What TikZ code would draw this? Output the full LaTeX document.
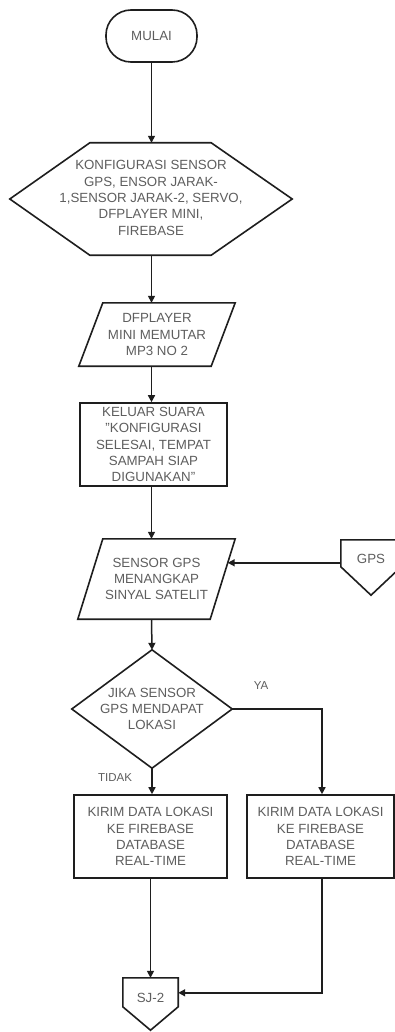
\documentclass[tikz,border=0pt]{standalone}
\usepackage{fontspec}
\setmainfont{Liberation Sans}
\usetikzlibrary{arrows.meta,calc}
\definecolor{ink}{HTML}{1E1E1E}
\definecolor{txt}{HTML}{5E5E5E}
\tikzset{
  box/.style={rectangle,inner sep=0pt,align=center,text=txt,
    font=\fontsize{13.3}{16.3}\selectfont},
  outline/.style={draw=ink,line width=1.6pt,line join=miter},
  flow/.style={draw=ink,line width=1.5pt,-{Triangle[length=7pt,width=7pt]}},
  lbl/.style={text=txt,font=\fontsize{11.5}{13}\selectfont,inner sep=0pt}
}
\begin{document}
\begin{tikzpicture}[x=1pt,y=-1pt]
\useasboundingbox (0,0) rectangle (395,1032);
\fill[white] (0,0) rectangle (395,1032);

% start terminator
\node[box,outline,minimum width=91pt,minimum height=52pt,rounded corners=25pt] (start) at (151.5,36) {MULAI};

% configuration hexagon
\node[box,minimum width=282pt,minimum height=112pt] (cfg) at (151,199)
  {\\[-9pt]KONFIGURASI SENSOR\\GPS, ENSOR JARAK-\\1,SENSOR JARAK-2, SERVO,\\DFPLAYER MINI,\\FIREBASE};
\draw[outline] (cfg.west) -- ($(cfg.north west)+(80,0)$) -- ($(cfg.north east)+(-81,0)$)
  -- (cfg.east) -- ($(cfg.south east)+(-81,0)$) -- ($(cfg.south west)+(80,0)$) -- cycle;

% mp3 playback (input/output)
\node[box,minimum width=156pt,minimum height=63pt] (mp3) at (157,334.5)
  {DFPLAYER\\MINI MEMUTAR\\MP3 NO 2};
\draw[outline] ($(mp3.north west)+(24,0)$) -- (mp3.north east)
  -- ($(mp3.south east)+(-24,0)$) -- (mp3.south west) -- cycle;

% spoken message
\node[box,outline,minimum width=147pt,minimum height=83pt] (sound) at (153.5,444.5)
  {KELUAR SUARA\\"KONFIGURASI\\SELESAI, TEMPAT\\SAMPAH SIAP\\DIGUNAKAN"};

% gps input
\node[box,minimum width=157pt,minimum height=80pt] (gpsin) at (156.5,579)
  {SENSOR GPS\\MENANGKAP\\SINYAL SATELIT};
\draw[outline] ($(gpsin.north west)+(25,0)$) -- (gpsin.north east)
  -- ($(gpsin.south east)+(-25,0)$) -- (gpsin.south west) -- cycle;

% off-page connector GPS
\node[box,minimum width=60pt,minimum height=55pt] (gps) at (371,567.5) {};
\node[box,anchor=center] (gpst) at ($(gps.north)+(0,19)$) {GPS};
\draw[outline] (gps.north west) -- (gps.north east) -- ($(gps.north east)+(0,27)$)
  -- (gps.south) -- ($(gps.north west)+(0,27)$) -- cycle;

% decision
\node[box,minimum width=160pt,minimum height=118pt] (dec) at (152,709)
  {JIKA SENSOR\\GPS MENDAPAT\\LOKASI};
\draw[outline] (dec.north) -- (dec.east) -- (dec.south) -- (dec.west) -- cycle;

% send boxes
\node[box,outline,minimum width=153pt,minimum height=83pt] (sendL) at (150.5,836.5)
  {KIRIM DATA LOKASI\\KE FIREBASE\\DATABASE\\REAL-TIME};
\node[box,outline,minimum width=147pt,minimum height=83pt] (sendR) at (320.5,836.5)
  {KIRIM DATA LOKASI\\KE FIREBASE\\DATABASE\\REAL-TIME};

% off-page connector SJ-2
\node[box,minimum width=55pt,minimum height=52pt] (sj) at (150.5,1004) {};
\node[box,anchor=center] (sjt) at ($(sj.north)+(0,20)$) {SJ-2};
\draw[outline] (sj.north west) -- (sj.north east) -- ($(sj.north east)+(0,29)$)
  -- (sj.south) -- ($(sj.north west)+(0,29)$) -- cycle;

% connectors
\draw[flow] (start.south) -- (start.south |- cfg.north);
\draw[flow] (start.south |- cfg.south) -- (start.south |- mp3.north);
\draw[flow] (start.south |- mp3.south) -- (start.south |- sound.north);
\draw[flow] (start.south |- sound.south) -- (start.south |- gpsin.north);
\draw[flow] (start.south |- gpsin.south) -- (dec.north);
\draw[flow] ($(gps.north west)+(0,23)$) -- ($(gpsin.north east)+(-7.5,24)$);
\draw[flow] (dec.east) -- ($(dec.east -| sendR.north)+(1.5,0)$) -- ($(sendR.north)+(1.5,0)$);
\draw[flow] (dec.south) -- (dec.south |- sendL.north);
\draw[flow] (sendL.south) -- (sendL.south |- sj.north);
\draw[flow] ($(sendR.south)+(1.5,0)$) -- ($(sendR.south |- sj.north)+(1.5,15)$) -- ($(sj.north east)+(0,15)$);

% branch labels
\node[lbl] (ya) at (261,686) {YA};
\node[lbl] (tidak) at (115,778) {TIDAK};
\end{tikzpicture}
\end{document}
